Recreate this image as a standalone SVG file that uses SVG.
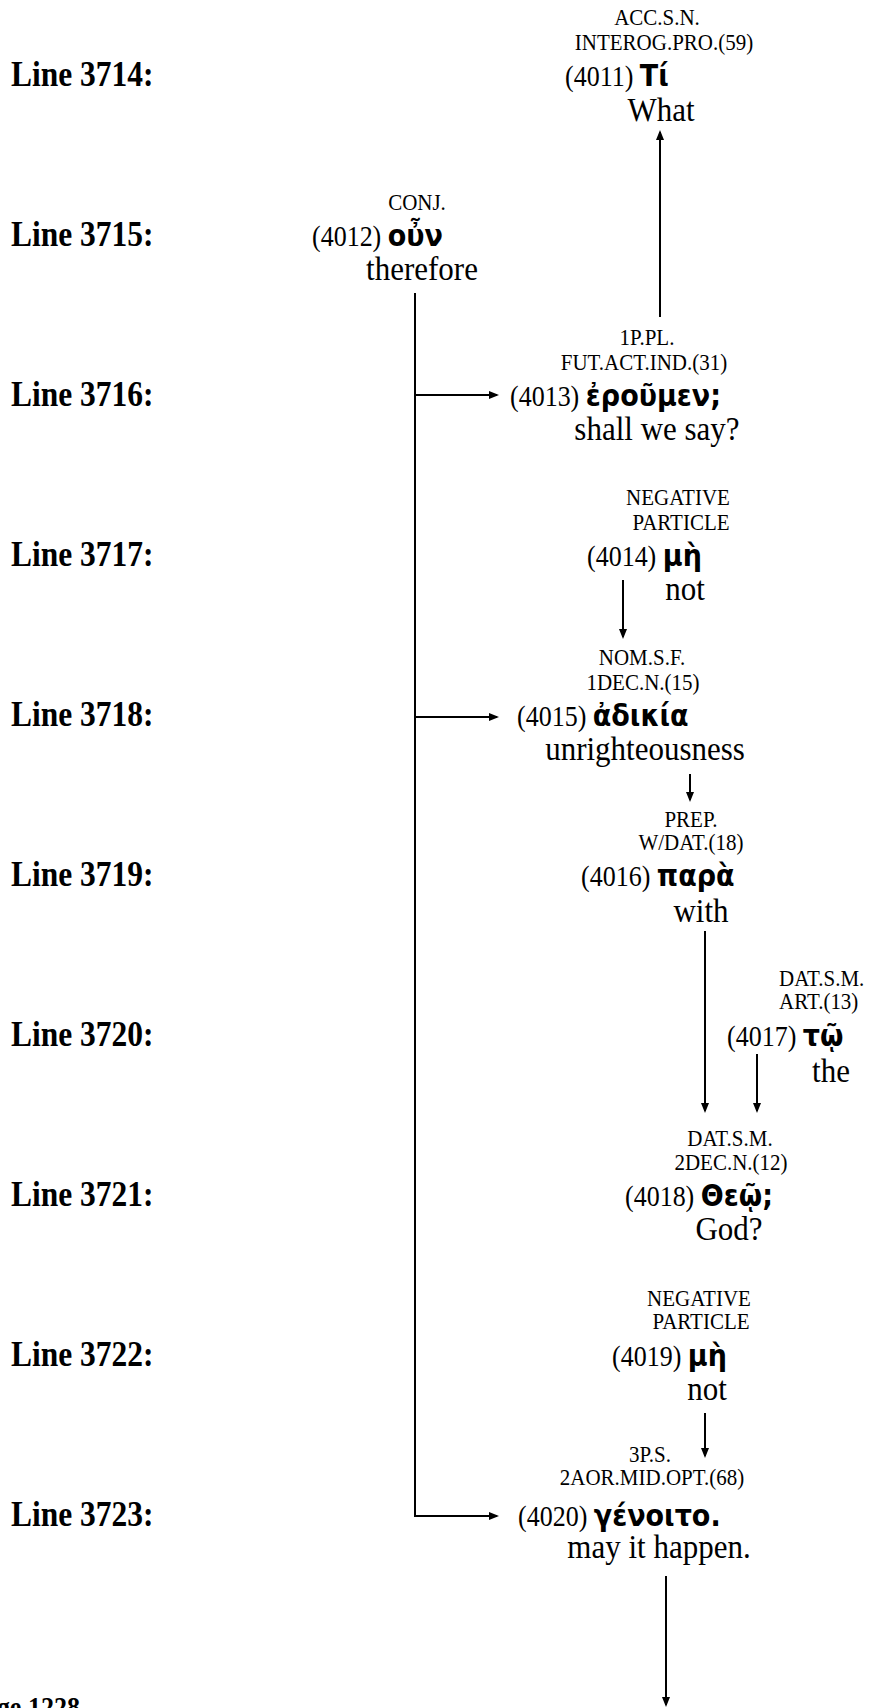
<svg xmlns="http://www.w3.org/2000/svg" width="869" height="1708" viewBox="0 0 869 1708">
<style>
  .lbl { font-family: "Liberation Serif", "Times New Roman", serif; font-weight: bold; font-size: 31.5px; fill: #000; }
  .tag { font-family: "Liberation Serif", "Times New Roman", serif; font-size: 21px; fill: #000; }
  .num { font-family: "Liberation Serif", "Times New Roman", serif; font-size: 26px; fill: #000; }
  .gr { font-family: "DejaVu Sans", "Noto Sans", sans-serif; font-weight: bold; font-size: 27px; }
  .gl { font-family: "Liberation Serif", "Times New Roman", serif; font-size: 31px; fill: #000; }
  .mid { text-anchor: middle; }
  .ln { stroke: #000; stroke-width: 2; fill: none; }
  .ar { stroke: #000; stroke-width: 2; fill: none; marker-end: url(#ah); }
</style>
<defs>
  <marker id="ah" markerUnits="userSpaceOnUse" markerWidth="10" markerHeight="8" refX="8" refY="4" orient="auto">
    <path d="M0,0 L10,4 L0,8 z" fill="#000"/>
  </marker>
</defs>
<rect width="869" height="1708" fill="#fff"/>

<g id="line-labels">
  <text class="lbl" x="11" y="86" transform="matrix(1 0 0 1.12 0 -10.32)">Line 3714:</text>
  <text class="lbl" x="11" y="246" transform="matrix(1 0 0 1.12 0 -29.52)">Line 3715:</text>
  <text class="lbl" x="11" y="406" transform="matrix(1 0 0 1.12 0 -48.72)">Line 3716:</text>
  <text class="lbl" x="11" y="566" transform="matrix(1 0 0 1.12 0 -67.92)">Line 3717:</text>
  <text class="lbl" x="11" y="726" transform="matrix(1 0 0 1.12 0 -87.12)">Line 3718:</text>
  <text class="lbl" x="11" y="886" transform="matrix(1 0 0 1.12 0 -106.32)">Line 3719:</text>
  <text class="lbl" x="11" y="1046" transform="matrix(1 0 0 1.12 0 -125.52)">Line 3720:</text>
  <text class="lbl" x="11" y="1206" transform="matrix(1 0 0 1.12 0 -144.72)">Line 3721:</text>
  <text class="lbl" x="11" y="1366" transform="matrix(1 0 0 1.12 0 -163.92)">Line 3722:</text>
  <text class="lbl" x="11" y="1526" transform="matrix(1 0 0 1.12 0 -183.12)">Line 3723:</text>
  <text class="lbl" x="-32" y="1717" style="font-size:26px" transform="matrix(1 0 0 1.12 0 -206.04)">Page 1228</text>
</g>

<g id="node-4011">
  <text class="tag mid" x="657" y="25" transform="matrix(1 0 0 1.12 0 -3)">ACC.S.N.</text>
  <text class="tag mid" x="664" y="50" transform="matrix(1 0 0 1.12 0 -6)">INTEROG.PRO.(59)</text>
  <text class="num" x="565" y="86" transform="matrix(1 0 0 1.12 0 -10.32)">(4011) <tspan class="gr">Τί</tspan></text>
  <text class="gl mid" x="661" y="121" transform="matrix(1 0 0 1.12 0 -14.52)">What</text>
</g>

<g id="node-4012">
  <text class="tag mid" x="417" y="210" transform="matrix(1 0 0 1.12 0 -25.2)">CONJ.</text>
  <text class="num" x="312" y="246" transform="matrix(1 0 0 1.12 0 -29.52)">(4012) <tspan class="gr">οὖν</tspan></text>
  <text class="gl mid" x="422" y="280" transform="matrix(1 0 0 1.12 0 -33.6)">therefore</text>
</g>

<g id="node-4013">
  <text class="tag mid" x="647" y="345" transform="matrix(1 0 0 1.12 0 -41.4)">1P.PL.</text>
  <text class="tag mid" x="644" y="370" transform="matrix(1 0 0 1.12 0 -44.4)">FUT.ACT.IND.(31)</text>
  <text class="num" x="510" y="406" transform="matrix(1 0 0 1.12 0 -48.72)">(4013) <tspan class="gr">ἐροῦμεν;</tspan></text>
  <text class="gl mid" x="657" y="440" transform="matrix(1 0 0 1.12 0 -52.8)">shall we say?</text>
</g>

<g id="node-4014">
  <text class="tag mid" x="678" y="505" transform="matrix(1 0 0 1.12 0 -60.6)">NEGATIVE</text>
  <text class="tag mid" x="681" y="530" transform="matrix(1 0 0 1.12 0 -63.6)">PARTICLE</text>
  <text class="num" x="587" y="566" transform="matrix(1 0 0 1.12 0 -67.92)">(4014) <tspan class="gr">μὴ</tspan></text>
  <text class="gl mid" x="685" y="600" transform="matrix(1 0 0 1.12 0 -72)">not</text>
</g>

<g id="node-4015">
  <text class="tag mid" x="642" y="665" transform="matrix(1 0 0 1.12 0 -79.8)">NOM.S.F.</text>
  <text class="tag mid" x="643" y="690" transform="matrix(1 0 0 1.12 0 -82.8)">1DEC.N.(15)</text>
  <text class="num" x="517" y="726" transform="matrix(1 0 0 1.12 0 -87.12)">(4015) <tspan class="gr">ἀδικία</tspan></text>
  <text class="gl mid" x="645" y="760" transform="matrix(1 0 0 1.12 0 -91.2)">unrighteousness</text>
</g>

<g id="node-4016">
  <text class="tag mid" x="691" y="827" transform="matrix(1 0 0 1.12 0 -99.24)">PREP.</text>
  <text class="tag mid" x="691" y="850" transform="matrix(1 0 0 1.12 0 -102)">W/DAT.(18)</text>
  <text class="num" x="581" y="886" transform="matrix(1 0 0 1.12 0 -106.32)">(4016) <tspan class="gr">παρὰ</tspan></text>
  <text class="gl mid" x="701" y="922" transform="matrix(1 0 0 1.12 0 -110.64)">with</text>
</g>

<g id="node-4017">
  <text class="tag" x="779" y="986" transform="matrix(1 0 0 1.12 0 -118.32)">DAT.S.M.</text>
  <text class="tag" x="779" y="1009" transform="matrix(1 0 0 1.12 0 -121.08)">ART.(13)</text>
  <text class="num" x="727" y="1046" transform="matrix(1 0 0 1.12 0 -125.52)">(4017) <tspan class="gr">τῷ</tspan></text>
  <text class="gl mid" x="831" y="1082" transform="matrix(1 0 0 1.12 0 -129.84)">the</text>
</g>

<g id="node-4018">
  <text class="tag mid" x="730" y="1146" transform="matrix(1 0 0 1.12 0 -137.52)">DAT.S.M.</text>
  <text class="tag mid" x="731" y="1170" transform="matrix(1 0 0 1.12 0 -140.4)">2DEC.N.(12)</text>
  <text class="num" x="625" y="1206" transform="matrix(1 0 0 1.12 0 -144.72)">(4018) <tspan class="gr">Θεῷ;</tspan></text>
  <text class="gl mid" x="729" y="1240" transform="matrix(1 0 0 1.12 0 -148.8)">God?</text>
</g>

<g id="node-4019">
  <text class="tag mid" x="699" y="1306" transform="matrix(1 0 0 1.12 0 -156.72)">NEGATIVE</text>
  <text class="tag mid" x="701" y="1329" transform="matrix(1 0 0 1.12 0 -159.48)">PARTICLE</text>
  <text class="num" x="612" y="1366" transform="matrix(1 0 0 1.12 0 -163.92)">(4019) <tspan class="gr">μὴ</tspan></text>
  <text class="gl mid" x="707" y="1400" transform="matrix(1 0 0 1.12 0 -168)">not</text>
</g>

<g id="node-4020">
  <text class="tag mid" x="650" y="1462" transform="matrix(1 0 0 1.12 0 -175.44)">3P.S.</text>
  <text class="tag mid" x="652" y="1485" transform="matrix(1 0 0 1.12 0 -178.2)">2AOR.MID.OPT.(68)</text>
  <text class="num" x="518" y="1526" transform="matrix(1 0 0 1.12 0 -183.12)">(4020) <tspan class="gr">γένοιτο.</tspan></text>
  <text class="gl mid" x="659" y="1558" transform="matrix(1 0 0 1.12 0 -186.96)">may it happen.</text>
</g>

<g id="connectors">
  <line class="ar" x1="660" y1="317" x2="660" y2="132"/>
  <line class="ln" x1="415" y1="293" x2="415" y2="1516"/>
  <line class="ar" x1="415" y1="395" x2="497" y2="395"/>
  <line class="ar" x1="415" y1="717" x2="497" y2="717"/>
  <line class="ar" x1="414" y1="1516" x2="497" y2="1516"/>
  <line class="ar" x1="623" y1="580" x2="623" y2="637"/>
  <line class="ar" x1="690" y1="774" x2="690" y2="800"/>
  <line class="ar" x1="705" y1="931" x2="705" y2="1111"/>
  <line class="ar" x1="757" y1="1054" x2="757" y2="1111"/>
  <line class="ar" x1="705" y1="1413" x2="705" y2="1456"/>
  <line class="ar" x1="666" y1="1576" x2="666" y2="1705"/>
</g>
</svg>
